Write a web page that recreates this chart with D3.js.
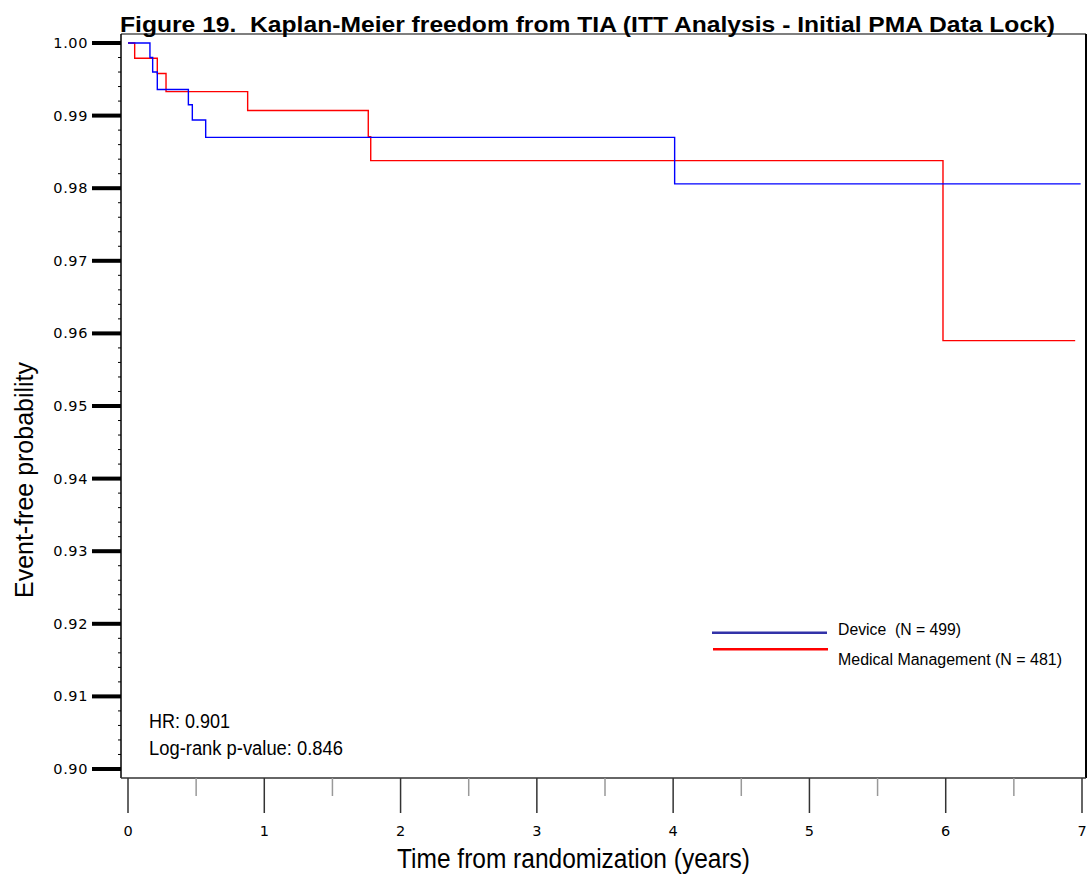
<!DOCTYPE html>
<html>
<head>
<meta charset="utf-8">
<script src="https://cdn.jsdelivr.net/npm/d3@7"></script>
<style>
  body { margin: 0; background: #fff; }
  svg { display: block; }
  text { font-family: "Liberation Sans", Arial, sans-serif; fill: #000; white-space: pre; }
</style>
</head>
<body>
<div id="km"></div>
<script>
/*
 * Kaplan-Meier freedom from TIA, step curves
 */

// values
var deviceTimes = [0, 0.161, 0.181, 0.215, 0.443, 0.472, 0.570, 4.011, 6.99];
var deviceSurv  = [1.0, 0.998, 0.996, 0.9936, 0.9915, 0.9894, 0.9870, 0.9806, 0.9806];
var medTimes    = [0, 0.049, 0.215, 0.279, 0.878, 1.763, 1.781, 5.98, 6.95];
var medSurv     = [1.0, 0.9979, 0.9958, 0.9933, 0.9907, 0.9871, 0.9838, 0.959, 0.959];

var xTicks = [0, 1, 2, 3, 4, 5, 6, 7];
var yTicks = [0.90, 0.91, 0.92, 0.93, 0.94, 0.95, 0.96, 0.97, 0.98, 0.99, 1.00];
var legendLabels = ["Device  (N = 499)", "Medical Management (N = 481)"];
var statLabels = ["HR: 0.901", "Log-rank p-value: 0.846"];

var width = 1088;
var height = 882;
var frame = { left: 121, right: 1086, top: 34, bottom: 778 };

var svg = d3.select('#km')
    .append('svg')
    .attr('width', width)
    .attr('height', height);

var x = d3.scaleLinear().domain([0, 7]).range([128, 1082]);
var y = d3.scaleLinear().domain([0.90, 1.00]).range([769, 43]);

// frame
svg.append('line').attr('x1', frame.left).attr('x2', frame.right)
    .attr('y1', frame.top).attr('y2', frame.top)
    .attr('stroke', '#000').attr('stroke-width', 1.2);
svg.append('line').attr('x1', frame.right).attr('x2', frame.right)
    .attr('y1', frame.top).attr('y2', frame.bottom)
    .attr('stroke', '#000').attr('stroke-width', 2);
svg.append('line').attr('x1', frame.left).attr('x2', frame.left)
    .attr('y1', frame.top).attr('y2', frame.bottom)
    .attr('stroke', '#000').attr('stroke-width', 1.5);
svg.append('line').attr('x1', frame.left).attr('x2', frame.right)
    .attr('y1', frame.bottom).attr('y2', frame.bottom)
    .attr('stroke', '#333').attr('stroke-width', 1.5);

// y axis ticks
var yMinor = d3.range(0.902, 1.0, 0.002).filter(function (v) {
    return Math.abs(Math.round(v * 100) - v * 100) > 0.05;
});
svg.selectAll('.ymin').data(yMinor).enter().append('line')
    .attr('class', 'ymin')
    .attr('x1', frame.left - 3).attr('x2', frame.left)
    .attr('y1', function (d) { return y(d); })
    .attr('y2', function (d) { return y(d); })
    .attr('stroke', '#000').attr('stroke-width', 1);

svg.selectAll('.ymaj').data(yTicks).enter().append('line')
    .attr('class', 'ymaj')
    .attr('x1', 92).attr('x2', frame.left)
    .attr('y1', function (d) { return y(d); })
    .attr('y2', function (d) { return y(d); })
    .attr('stroke', '#000').attr('stroke-width', 4);

svg.selectAll('.ylab').data(yTicks).enter().append('text')
    .attr('class', 'ylab')
    .attr('x', 88)
    .attr('y', function (d) { return y(d) + 5; })
    .attr('text-anchor', 'end')
    .style('font-family', '"DejaVu Sans", sans-serif')
    .style('font-size', '14.5px')
    .style('letter-spacing', '0.6px')
    .text(function (d) { return d3.format('.2f')(d); });

// x axis ticks
var xMinor = d3.range(0.5, 7, 1);
svg.selectAll('.xmin').data(xMinor).enter().append('line')
    .attr('class', 'xmin')
    .attr('x1', function (d) { return x(d); })
    .attr('x2', function (d) { return x(d); })
    .attr('y1', frame.bottom).attr('y2', 796)
    .attr('stroke', '#999').attr('stroke-width', 1.5);

svg.selectAll('.xmaj').data(xTicks).enter().append('line')
    .attr('class', 'xmaj')
    .attr('x1', function (d) { return x(d); })
    .attr('x2', function (d) { return x(d); })
    .attr('y1', frame.bottom).attr('y2', 813)
    .attr('stroke', '#333').attr('stroke-width', 1.5);

svg.selectAll('.xlab').data(xTicks).enter().append('text')
    .attr('class', 'xlab')
    .attr('x', function (d) { return x(d); })
    .attr('y', 836)
    .attr('text-anchor', 'middle')
    .style('font-family', '"DejaVu Sans", sans-serif')
    .style('font-size', '14.5px')
    .text(function (d) { return d; });

// curves
var line = d3.line()
    .x(function (d) { return x(d[0]); })
    .y(function (d) { return y(d[1]); })
    .curve(d3.curveStepAfter);

var curves = [
    { pts: d3.zip(medTimes, medSurv), color: '#ff0000' },
    { pts: d3.zip(deviceTimes, deviceSurv), color: '#0000ff' }
];

svg.selectAll('.km').data(curves).enter().append('path')
    .attr('class', 'km')
    .attr('d', function (d) { return line(d.pts); })
    .attr('fill', 'none')
    .attr('stroke', function (d) { return d.color; })
    .attr('stroke-width', 1.4);

// legend
var legendColors = ['#3232a8', '#ff0000'];
var legendLineY = [632.7, 649.3];
var legendTextY = [635, 665];
var legendTextLen = [123, 224];
svg.selectAll('.leg-line').data(legendLabels).enter().append('line')
    .attr('class', 'leg-line')
    .attr('x1', function (d, i) { return i ? 713 : 712; })
    .attr('x2', function (d, i) { return i ? 828 : 827; })
    .attr('y1', function (d, i) { return legendLineY[i]; })
    .attr('y2', function (d, i) { return legendLineY[i]; })
    .attr('stroke', function (d, i) { return legendColors[i]; })
    .attr('stroke-width', 2.5);

svg.selectAll('.leg-text').data(legendLabels).enter().append('text')
    .attr('class', 'leg-text')
    .attr('x', 838)
    .attr('y', function (d, i) { return legendTextY[i]; })
    .attr('textLength', function (d, i) { return legendTextLen[i]; })
    .attr('lengthAdjust', 'spacingAndGlyphs')
    .style('font-size', '16px')
    .text(function (d) { return d; });

// HR / p-value
var statY = [728, 755];
var statLen = [81, 194];
svg.selectAll('.stat').data(statLabels).enter().append('text')
    .attr('class', 'stat')
    .attr('x', 149)
    .attr('y', function (d, i) { return statY[i]; })
    .attr('textLength', function (d, i) { return statLen[i]; })
    .attr('lengthAdjust', 'spacingAndGlyphs')
    .style('font-size', '20px')
    .text(function (d) { return d; });

// titles
svg.append('text')
    .attr('x', 120).attr('y', 31.5)
    .attr('textLength', 935)
    .attr('lengthAdjust', 'spacingAndGlyphs')
    .style('font-size', '22.5px')
    .style('font-weight', 'bold')
    .text('Figure 19.  Kaplan-Meier freedom from TIA (ITT Analysis - Initial PMA Data Lock)');

svg.append('text')
    .attr('x', 397).attr('y', 868)
    .attr('textLength', 353)
    .attr('lengthAdjust', 'spacingAndGlyphs')
    .style('font-size', '27px')
    .text('Time from randomization (years)');

svg.append('text')
    .attr('transform', 'translate(33,598) rotate(-90)')
    .attr('textLength', 236)
    .attr('lengthAdjust', 'spacingAndGlyphs')
    .style('font-size', '25px')
    .text('Event-free probability');
</script>
</body>
</html>
